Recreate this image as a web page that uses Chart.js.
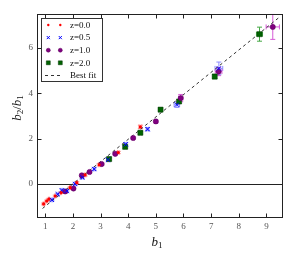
<!DOCTYPE html>
<html>
<head>
<meta charset="utf-8">
<script src="https://cdn.jsdelivr.net/npm/chart.js@4.4.0/dist/chart.umd.min.js"></script>
<style>
  html, body { margin: 0; padding: 0; background: #fff; }
</style>
</head>
<body>
<canvas id="chart" width="301" height="256"></canvas>
<script>
// z = 0.0
const z00X = [0.94, 1.05, 1.13, 1.36, 1.57, 1.90, 2.14, 2.44, 2.95, 3.64, 4.44];
const z00Y = [-0.88, -0.75, -0.67, -0.53, -0.38, -0.16, 0.06, 0.40, 0.85, 1.39, 2.52];
const z00Ex = [0.02, 0.02, 0.02, 0.02, 0.02, 0.02, 0.02, 0.03, 0.03, 0.03, 0.05];
const z00Ey = [0.04, 0.04, 0.04, 0.04, 0.04, 0.04, 0.04, 0.05, 0.05, 0.05, 0.07];
// z = 0.5
const z05X = [1.24, 1.45, 1.60, 1.78, 2.08, 2.34, 2.77, 3.27, 3.91, 4.70, 5.76, 7.28];
const z05Y = [-0.70, -0.45, -0.28, -0.31, 0.00, 0.29, 0.66, 1.07, 1.75, 2.42, 3.50, 5.10];
const z05Ex = [0.03, 0.03, 0.03, 0.03, 0.03, 0.03, 0.03, 0.04, 0.04, 0.05, 0.10, 0.14];
const z05Ey = [0.04, 0.04, 0.06, 0.04, 0.04, 0.04, 0.05, 0.05, 0.07, 0.07, 0.12, 0.28];
// z = 1.0
const z10X = [1.72, 2.02, 2.32, 2.60, 3.04, 3.53, 4.18, 5.00, 5.90, 7.27, 9.23];
const z10Y = [-0.33, -0.20, 0.38, 0.53, 0.88, 1.33, 2.03, 2.76, 3.79, 4.96, 6.93];
const z10Ex = [0.03, 0.03, 0.03, 0.03, 0.03, 0.03, 0.04, 0.05, 0.08, 0.12, 0.24];
const z10Ey = [0.04, 0.04, 0.05, 0.05, 0.05, 0.05, 0.05, 0.06, 0.16, 0.18, 0.55];
// z = 2.0
const z20X = [3.31, 3.89, 4.44, 5.17, 5.84, 7.13, 8.75];
const z20Y = [1.10, 1.64, 2.26, 3.28, 3.64, 4.74, 6.61];
const z20Ex = [0.04, 0.04, 0.04, 0.05, 0.05, 0.06, 0.11];
const z20Ey = [0.05, 0.06, 0.06, 0.08, 0.08, 0.10, 0.31];
// best fit
const fitX = [0.9, 9.45];
const fitY = [-1.08, 7.34];

const xTicks = [1, 2, 3, 4, 5, 6, 7, 8, 9];
const yTicks = [0, 2, 4, 6];
const legendLabels = ['z=0.0', 'z=0.5', 'z=1.0', 'z=2.0', 'Best fit'];

const serif = "'Liberation Serif', 'DejaVu Serif', serif";

function pts(xs, ys) {
    return xs.map((v, i) => ({ x: v, y: ys[i] }));
}

// error bars under the markers
const errorBars = {
    id: 'errorBars',
    beforeDatasetsDraw(chart) {
        const { ctx, scales: { x, y } } = chart;
        chart.data.datasets.forEach(ds => {
            if (!ds.errX) return;
            ctx.save();
            ctx.strokeStyle = ds.errColor;
            ctx.lineWidth = 1;
            ds.data.forEach((p, i) => {
                const px = x.getPixelForValue(p.x), py = y.getPixelForValue(p.y);
                const x0 = x.getPixelForValue(p.x - ds.errX[i]);
                const x1 = x.getPixelForValue(p.x + ds.errX[i]);
                const y0 = y.getPixelForValue(p.y - ds.errY[i]);
                const y1 = y.getPixelForValue(p.y + ds.errY[i]);
                ctx.beginPath();
                ctx.moveTo(x0, py); ctx.lineTo(x1, py);
                ctx.moveTo(px, y0); ctx.lineTo(px, y1);
                ctx.moveTo(px - 2.5, y0); ctx.lineTo(px + 2.5, y0);
                ctx.moveTo(px - 2.5, y1); ctx.lineTo(px + 2.5, y1);
                ctx.moveTo(x0, py - 2.5); ctx.lineTo(x0, py + 2.5);
                ctx.moveTo(x1, py - 2.5); ctx.lineTo(x1, py + 2.5);
                ctx.stroke();
            });
            ctx.restore();
        });
    }
};

// frame, inward ticks, legend box and axis titles
const decorations = {
    id: 'decorations',
    afterDraw(chart) {
        const { ctx, chartArea: a, scales: { x, y } } = chart;
        ctx.save();
        ctx.strokeStyle = '#222';
        ctx.lineWidth = 1;
        const L = Math.round(a.left) + 0.5, R = Math.round(a.right) - 0.5;
        const T = Math.round(a.top) + 0.5, B = Math.round(a.bottom) - 0.5;
        ctx.strokeRect(L, T, R - L, B - T);

        ctx.beginPath();
        xTicks.forEach(v => {
            const px = Math.round(x.getPixelForValue(v)) + 0.5;
            ctx.moveTo(px, B); ctx.lineTo(px, B - 4);
            ctx.moveTo(px, T); ctx.lineTo(px, T + 4);
        });
        yTicks.forEach(v => {
            const py = Math.round(y.getPixelForValue(v)) + 0.5;
            ctx.moveTo(L, py); ctx.lineTo(L + 4, py);
            ctx.moveTo(R, py); ctx.lineTo(R - 4, py);
        });
        ctx.stroke();

        // legend
        const bx = 41.5, by = 18.5, bw = 61, bh = 63;
        ctx.fillStyle = '#fff';
        ctx.fillRect(bx, by, bw, bh);
        ctx.strokeStyle = '#333';
        ctx.strokeRect(bx, by, bw, bh);
        ctx.textBaseline = 'middle';
        ctx.textAlign = 'left';
        legendLabels.forEach((label, i) => {
            const ly = 25 + i * 12.6;
            const ds = chart.data.datasets[i];
            if (ds.type === 'line') {
                ctx.save();
                ctx.strokeStyle = ds.borderColor;
                ctx.setLineDash(ds.borderDash);
                ctx.beginPath();
                ctx.moveTo(45, Math.round(ly) + 0.5);
                ctx.lineTo(63, Math.round(ly) + 0.5);
                ctx.stroke();
                ctx.restore();
            } else {
                [48.3, 60.3].forEach(mx => {
                    ctx.fillStyle = ds.backgroundColor;
                    ctx.strokeStyle = ds.borderColor;
                    ctx.lineWidth = ds.borderWidth;
                    Chart.helpers.drawPoint(ctx, {
                        pointStyle: ds.pointStyle,
                        radius: ds.legendRadius,
                        borderWidth: ds.borderWidth,
                        rotation: 0
                    }, mx, ly);
                });
            }
            ctx.lineWidth = 1;
            ctx.fillStyle = '#111';
            ctx.font = '9px ' + serif;
            ctx.fillText(label, 70, ly + 0.5);
        });

        // axis titles with subscripts
        drawMath(ctx, [['b', 'i'], ['2', 's'], ['/', 'n'], ['b', 'i'], ['1', 's']], 17, 108, -Math.PI / 2);
        drawMath(ctx, [['b', 'i'], ['1', 's']], 157, 242, 0);
        ctx.restore();
    }
};

function drawMath(ctx, parts, cx, cy, rot) {
    const fontOf = k => k === 'i' ? 'italic 13px ' + serif : (k === 's' ? '9px ' + serif : '13px ' + serif);
    let w = 0;
    parts.forEach(p => { ctx.font = fontOf(p[1]); w += ctx.measureText(p[0]).width; });
    ctx.save();
    ctx.translate(cx, cy);
    ctx.rotate(rot);
    ctx.fillStyle = '#111';
    ctx.textBaseline = 'alphabetic';
    ctx.textAlign = 'left';
    let px = -w / 2;
    parts.forEach(p => {
        ctx.font = fontOf(p[1]);
        ctx.fillText(p[0], px, p[1] === 's' ? 6 : 4);
        px += ctx.measureText(p[0]).width;
    });
    ctx.restore();
}

new Chart(document.getElementById('chart'), {
    type: 'scatter',
    data: {
        datasets: [
            {
                label: 'z=0.0', data: pts(z00X, z00Y),
                errX: z00Ex, errY: z00Ey, errColor: '#ff8a8a',
                pointStyle: 'circle', pointRadius: 1.6, legendRadius: 1.2, borderWidth: 0,
                backgroundColor: '#ff0000', borderColor: '#ff0000'
            },
            {
                label: 'z=0.5', data: pts(z05X, z05Y),
                errX: z05Ex, errY: z05Ey, errColor: '#8c8cff',
                pointStyle: 'crossRot', pointRadius: 3, legendRadius: 2.2, borderWidth: 1,
                backgroundColor: '#0000ff', borderColor: '#0000ff'
            },
            {
                label: 'z=1.0', data: pts(z10X, z10Y),
                errX: z10Ex, errY: z10Ey, errColor: '#d65ad6',
                pointStyle: 'circle', pointRadius: 2.6, legendRadius: 2, borderWidth: 0.5,
                backgroundColor: '#800080', borderColor: '#5a005a'
            },
            {
                label: 'z=2.0', data: pts(z20X, z20Y),
                errX: z20Ex, errY: z20Ey, errColor: '#45a845',
                pointStyle: 'rect', pointRadius: 3.6, legendRadius: 2.8, borderWidth: 0.5,
                backgroundColor: '#006400', borderColor: '#003300'
            },
            {
                type: 'line', label: 'Best fit', data: pts(fitX, fitY),
                borderColor: '#333', borderWidth: 1, borderDash: [3, 3],
                pointRadius: 0, fill: false, showLine: true
            }
        ]
    },
    options: {
        responsive: false,
        animation: false,
        events: [],
        layout: { padding: { left: 0, right: 18, top: 14, bottom: 0 } },
        scales: {
            x: {
                type: 'linear', min: 0.7, max: 9.6,
                afterBuildTicks: s => { s.ticks = xTicks.map(v => ({ value: v })); },
                afterFit: s => { s.height = 38; },
                grid: { display: false, drawTicks: false },
                border: { display: false },
                ticks: { padding: 3, color: '#555', font: { family: serif, size: 9 }, maxRotation: 0 }
            },
            y: {
                type: 'linear', min: -1.5, max: 7.5,
                afterBuildTicks: s => { s.ticks = yTicks.map(v => ({ value: v })); },
                afterFit: s => { s.width = 37; },
                grid: {
                    drawTicks: false,
                    color: c => (c.tick && c.tick.value === 0) ? '#222' : 'rgba(0,0,0,0)'
                },
                border: { display: false },
                ticks: { padding: 4, color: '#555', font: { family: serif, size: 9 } }
            }
        },
        plugins: {
            legend: { display: false },
            tooltip: { enabled: false }
        }
    },
    plugins: [errorBars, decorations]
});
</script>
</body>
</html>
